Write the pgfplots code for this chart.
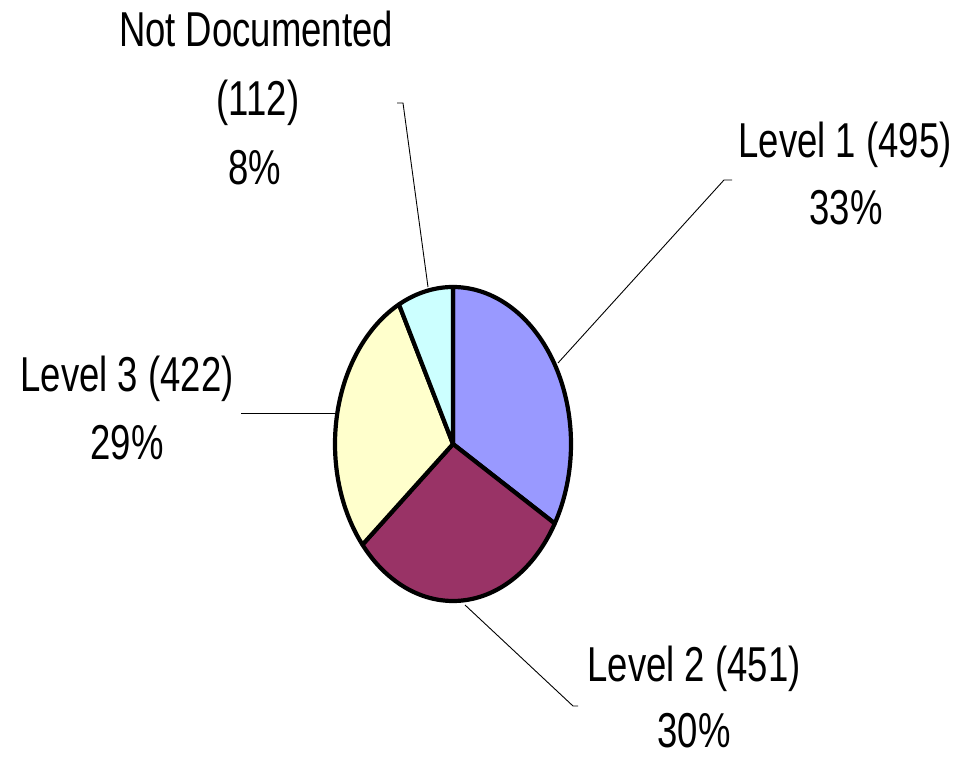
\documentclass[border=0pt]{standalone}
\usepackage{pgfplots}
\pgfplotsset{compat=1.18}
\usepackage{fontspec}
\setmainfont{Liberation Sans}[FakeStretch=0.745]
\definecolor{lvA}{HTML}{9999FF}
\definecolor{lvB}{HTML}{993366}
\definecolor{lvC}{HTML}{FFFFCC}
\definecolor{lvD}{HTML}{CCFFFF}
% data
\def\va{495}\def\vb{451}\def\vc{422}\def\vd{112}
\pgfmathsetmacro\tot{\va+\vb+\vc+\vd}
\pgfmathsetmacro\aA{90}
\pgfmathsetmacro\aB{\aA-360*(\va/\tot)}
\pgfmathsetmacro\aC{\aB-360*(\vb/\tot)}
\pgfmathsetmacro\aD{\aC-360*(\vc/\tot)}
\pgfmathsetmacro\aE{\aD-360*(\vd/\tot)}
\def\cx{453}\def\cy{314}\def\rx{118}\def\ry{157}
\newcommand\labfont{\fontsize{49}{58}\selectfont}
\tikzset{lab/.style={anchor=base,inner sep=0pt,font=\labfont}}
\begin{document}
\begin{tikzpicture}
\begin{axis}[x=1pt,y=1pt,xmin=0,xmax=962,ymin=0,ymax=758,hide axis,clip=false]
\path (axis cs:0,0) rectangle (axis cs:962,758);
\addplot[fill=lvA,draw=black,line width=4.2pt,line join=round,domain=\aB:\aA,samples=80,variable=\t]
  ({\cx+\rx*cos(\t)},{\cy+\ry*sin(\t)}) -- (axis cs:\cx,\cy) -- cycle;
\addplot[fill=lvB,draw=black,line width=4.2pt,line join=round,domain=\aC:\aB,samples=80,variable=\t]
  ({\cx+\rx*cos(\t)},{\cy+\ry*sin(\t)}) -- (axis cs:\cx,\cy) -- cycle;
\addplot[fill=lvC,draw=black,line width=4.2pt,line join=round,domain=\aD:\aC,samples=80,variable=\t]
  ({\cx+\rx*cos(\t)},{\cy+\ry*sin(\t)}) -- (axis cs:\cx,\cy) -- cycle;
\addplot[fill=lvD,draw=black,line width=4.2pt,line join=round,domain=\aE:\aD,samples=40,variable=\t]
  ({\cx+\rx*cos(\t)},{\cy+\ry*sin(\t)}) -- (axis cs:\cx,\cy) -- cycle;
% leader lines
\addplot[black,line width=0.9pt] coordinates {(397,655) (403,655) (428,471)};
\addplot[black,line width=0.9pt] coordinates {(732,578) (724,578) (558,395)};
\addplot[black,line width=0.9pt] coordinates {(241,345) (335,345)};
\addplot[black,line width=0.9pt] coordinates {(465,153) (573,52) (578,52)};
% labels
\node[lab] at (axis cs:256,711) {\labfont Not Documented};
\node[lab] at (axis cs:258,642) {\labfont (112)};
\node[lab] at (axis cs:255,573) {\labfont 8\%};
\node[lab] at (axis cs:845,600) {\labfont Level 1 (495)};
\node[lab] at (axis cs:846,533) {\labfont 33\%};
\node[lab] at (axis cs:127,366) {\labfont Level 3 (422)};
\node[lab] at (axis cs:127,298) {\labfont 29\%};
\node[lab] at (axis cs:694,76) {\labfont Level 2 (451)};
\node[lab] at (axis cs:694,10) {\labfont 30\%};
\end{axis}
\end{tikzpicture}
\end{document}
